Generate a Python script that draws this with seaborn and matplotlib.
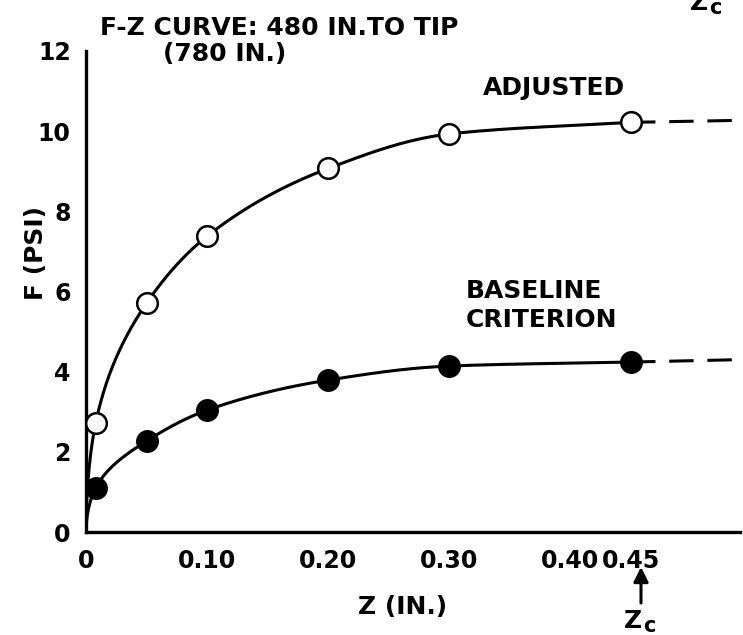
import numpy as np
import pandas as pd
import matplotlib
matplotlib.use("Agg")
import matplotlib.pyplot as plt
import seaborn as sns

# Measured F-Z points (Z in inches, F in psi)
z_points = [0.008, 0.05, 0.10, 0.20, 0.30, 0.45]
f_adjusted = [2.72, 5.71, 7.38, 9.07, 9.93, 10.22]
f_baseline = [1.10, 2.27, 3.04, 3.79, 4.14, 4.24]

# Extrapolated tails beyond Zc (dashed)
z_tail = [0.45, 0.54]
f_adjusted_tail = [10.22, 10.27]
f_baseline_tail = [4.24, 4.30]

x_ticks = [0, 0.10, 0.20, 0.30, 0.40, 0.45]
x_tick_labels = ["0", "0.10", "0.20", "0.30", "0.40", "0.45"]
y_ticks = [0, 2, 4, 6, 8, 10, 12]
y_tick_labels = ["0", "2", "4", "6", "8", "10", "12"]

W, H = 743, 635
FONT = "DejaVu Sans"


def pchip(x, y, xq):
    """Shape-preserving piecewise cubic Hermite curve through (x, y)."""
    x = np.asarray(x, float)
    y = np.asarray(y, float)
    h = np.diff(x)
    d = np.diff(y) / h
    m = np.zeros_like(y)
    m[0], m[-1] = d[0], d[-1]
    for k in range(1, len(x) - 1):
        if d[k - 1] * d[k] > 0:
            w1 = 2 * h[k] + h[k - 1]
            w2 = h[k] + 2 * h[k - 1]
            m[k] = (w1 + w2) / (w1 / d[k - 1] + w2 / d[k])
    idx = np.clip(np.searchsorted(x, xq) - 1, 0, len(x) - 2)
    t = (xq - x[idx]) / h[idx]
    h00 = 2 * t**3 - 3 * t**2 + 1
    h10 = t**3 - 2 * t**2 + t
    h01 = -2 * t**3 + 3 * t**2
    h11 = t**3 - t**2
    return (h00 * y[idx] + h10 * h[idx] * m[idx]
            + h01 * y[idx + 1] + h11 * h[idx] * m[idx + 1])


def smooth_fz(z_nodes, f_nodes, zq):
    # interpolate against sqrt(Z) so the steep start and flat end blend smoothly
    return pchip(np.sqrt(z_nodes), f_nodes, np.sqrt(zq))


def px(x, y):
    return x / W, 1 - y / H


sns.set_theme(style="white")
plt.rcParams["font.family"] = [FONT]

fig = plt.figure(figsize=(W / 100, H / 100), dpi=100)
ax = fig.add_axes([86 / W, (H - 532) / H, (740 - 86) / W, (532 - 51) / H])

# Smooth curves start at the origin and pass through the measured points
z_curve_nodes = [0.0] + z_points
zq = np.linspace(0, 0.45, 800)
curves = pd.DataFrame({
    "Z": np.concatenate([zq, zq]),
    "F": np.concatenate([smooth_fz(z_curve_nodes, [0.0] + f_adjusted, zq),
                         smooth_fz(z_curve_nodes, [0.0] + f_baseline, zq)]),
    "series": ["adjusted"] * len(zq) + ["baseline"] * len(zq),
})
sns.lineplot(data=curves, x="Z", y="F", units="series", estimator=None,
             sort=False, color="black", lw=2.2, ax=ax)

tails = pd.DataFrame({
    "Z": z_tail + z_tail,
    "F": f_adjusted_tail + f_baseline_tail,
    "series": ["adjusted"] * 2 + ["baseline"] * 2,
})
sns.lineplot(data=tails, x="Z", y="F", units="series", estimator=None,
             color="black", lw=2.2, ax=ax, linestyle=(0, (8, 4.5)))

sns.scatterplot(x=z_points, y=f_adjusted, s=220, marker="o",
                facecolor="white", edgecolor="black", linewidth=1.8,
                ax=ax, zorder=5)
sns.scatterplot(x=z_points, y=f_baseline, s=240, marker="o",
                color="black", edgecolor="black", linewidth=1.0,
                ax=ax, zorder=5)

ax.set_xlim(0, 0.54)
ax.set_ylim(0, 12)
ax.set_xticks(x_ticks)
ax.set_xticklabels(x_tick_labels)
ax.set_yticks(y_ticks)
ax.set_yticklabels(y_tick_labels)
ax.set_xlabel("")
ax.set_ylabel("")

for side in ("top", "right"):
    ax.spines[side].set_visible(False)
for side in ("left", "bottom"):
    ax.spines[side].set_color("black")
    ax.spines[side].set_linewidth(2.4)

ax.tick_params(axis="both", direction="in", length=9.5, width=2.0,
               colors="black", labelsize=17)
ax.tick_params(axis="x", pad=12)
ax.tick_params(axis="y", pad=11)
for lab in ax.get_xticklabels() + ax.get_yticklabels():
    lab.set_fontweight("bold")

txt = dict(fontsize=18, fontweight="bold", color="black", family=FONT)

fig.text(*px(100, 35), "F-Z CURVE: 480 IN.TO TIP", ha="left", va="baseline", **txt)
fig.text(*px(163, 61), "(780 IN.)", ha="left", va="baseline", **txt)
fig.text(*px(483, 95), "ADJUSTED", ha="left", va="baseline", **txt)
fig.text(*px(466, 298), "BASELINE", ha="left", va="baseline", **txt)
fig.text(*px(466, 327), "CRITERION", ha="left", va="baseline", **txt)

fig.text(*px(36, 253), "F (PSI)", rotation=90, ha="center", va="center", **txt)
fig.text(*px(403, 614), "Z (IN.)", ha="center", va="baseline", **txt)

# Zc marker under the 0.45 tick
ax.annotate("", xy=px(641, 567), xytext=px(641, 603),
            xycoords="figure fraction", textcoords="figure fraction",
            arrowprops=dict(arrowstyle="-|>", lw=2.2, color="black",
                            mutation_scale=22, shrinkA=0, shrinkB=0))
fig.text(*px(624, 628), "Z", ha="left", va="baseline", **txt)
fig.text(*px(643, 632), "c", ha="left", va="baseline",
         fontsize=15, fontweight="bold", color="black", family=FONT)

# Label running off the top edge
fig.text(*px(690, 10), "Z", ha="left", va="baseline", **txt)
fig.text(*px(709, 14), "c", ha="left", va="baseline",
         fontsize=15, fontweight="bold", color="black", family=FONT)

fig.savefig("out.png", dpi=100)
